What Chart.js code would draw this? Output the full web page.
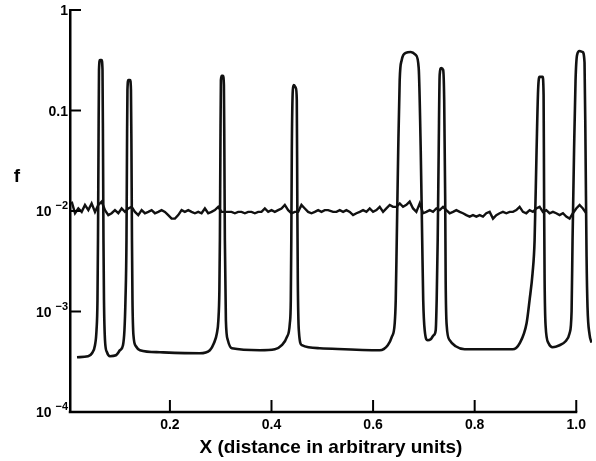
<!DOCTYPE html>
<html>
<head>
<meta charset="utf-8">
<script src="https://cdn.jsdelivr.net/npm/chart.js@4.4.1/dist/chart.umd.min.js"></script>
<style>
  html, body { margin: 0; padding: 0; background: #fff; }
  #wrap { width: 596px; height: 461px; position: relative; }
</style>
</head>
<body>
<div id="wrap"><canvas id="chart"></canvas></div>
<script>
// axis ticks
const xTickValues = [0.2, 0.4, 0.6, 0.8, 1.0];
const xTickLabels = ['0.2', '0.4', '0.6', '0.8', '1.0'];
const yTickValues = [1e-4, 1e-3, 1e-2, 0.1, 1];
const yTickBase = ['10', '10', '10', '0.1', '1'];
const yTickExp = ['\u22124', '\u22123', '\u22122', '', ''];
const xTitle = 'X (distance in arbitrary units)';
const yTitle = 'f';

// spiky curve
const spikeX = [
  0.0171, 0.0388, 0.0466, 0.0525, 0.0555, 0.0574, 0.0584, 0.0594, 0.0604, 0.0624,
  0.0653, 0.0673, 0.0683, 0.0692, 0.0702, 0.0722, 0.0761, 0.0820, 0.0938, 0.1017,
  0.1076, 0.1105, 0.1125, 0.1145, 0.1155, 0.1164, 0.1184, 0.1214, 0.1233, 0.1243,
  0.1253, 0.1263, 0.1282, 0.1331, 0.1410, 0.1804, 0.2590, 0.2787, 0.2866, 0.2925,
  0.2954, 0.2974, 0.2984, 0.2994, 0.3004, 0.3023, 0.3043, 0.3063, 0.3072, 0.3082,
  0.3102, 0.3141, 0.3220, 0.3771, 0.4066, 0.4203, 0.4302, 0.4361, 0.4380, 0.4390,
  0.4400, 0.4420, 0.4439, 0.4479, 0.4498, 0.4508, 0.4518, 0.4538, 0.4597, 0.4951,
  0.6131, 0.6289, 0.6367, 0.6426, 0.6446, 0.6466, 0.6495, 0.6524, 0.6564, 0.6643,
  0.6741, 0.6839, 0.6898, 0.6938, 0.6967, 0.6987, 0.7016, 0.7075, 0.7134, 0.7193,
  0.7233, 0.7252, 0.7272, 0.7292, 0.7311, 0.7341, 0.7380, 0.7400, 0.7420, 0.7429,
  0.7449, 0.7508, 0.7626, 0.7803, 0.8747, 0.8885, 0.9022, 0.9081, 0.9140, 0.9180,
  0.9219, 0.9249, 0.9278, 0.9337, 0.9357, 0.9367, 0.9377, 0.9396, 0.9455, 0.9534,
  0.9672, 0.9790, 0.9869, 0.9908, 0.9927, 0.9957, 0.9986, 1.0016, 1.0065, 1.0124,
  1.0163, 1.0183, 1.0203, 1.0222, 1.0262, 1.0301
];
const spikeF = [
  3.51e-4, 3.59e-4, 3.84e-4, 4.62e-4, 6.51e-4, 1.30e-3, 5.13e-3, 0.0404, 0.253, 0.318,
  0.318, 0.253, 0.0404, 5.13e-3, 1.30e-3, 5.18e-4, 3.93e-4, 3.59e-4, 3.67e-4, 4.12e-4,
  4.62e-4, 6.51e-4, 1.30e-3, 5.13e-3, 0.0404, 0.160, 0.201, 0.201, 0.160, 0.0404,
  5.13e-3, 1.30e-3, 5.81e-4, 4.51e-4, 4.12e-4, 3.93e-4, 3.84e-4, 4.12e-4, 4.83e-4, 6.08e-4,
  8.19e-4, 1.63e-3, 5.13e-3, 0.0404, 0.201, 0.221, 0.221, 0.179, 0.0404, 5.13e-3,
  8.19e-4, 5.18e-4, 4.31e-4, 4.12e-4, 4.21e-4, 4.62e-4, 5.55e-4, 7.64e-4, 1.30e-3, 5.13e-3,
  0.0404, 0.160, 0.179, 0.168, 0.127, 0.0128, 2.05e-3, 6.51e-4, 4.62e-4, 4.31e-4,
  4.12e-4, 4.62e-4, 5.55e-4, 7.64e-4, 1.30e-3, 5.13e-3, 0.0404, 0.201, 0.318, 0.374,
  0.382, 0.357, 0.265, 0.0404, 5.13e-3, 1.30e-3, 6.51e-4, 5.18e-4, 5.30e-4, 5.81e-4,
  6.51e-4, 1.30e-3, 5.13e-3, 0.0404, 0.226, 0.265, 0.253, 0.127, 0.0128, 2.05e-3,
  7.30e-4, 5.18e-4, 4.51e-4, 4.21e-4, 4.21e-4, 4.83e-4, 7.64e-4, 1.30e-3, 2.41e-3, 5.13e-3,
  0.0404, 0.160, 0.216, 0.216, 0.143, 0.0128, 2.05e-3, 7.30e-4, 4.83e-4, 4.41e-4,
  4.62e-4, 5.06e-4, 6.08e-4, 1.00e-3, 5.13e-3, 0.0404, 0.200, 0.357, 0.391, 0.382,
  0.300, 0.0404, 3.50e-3, 1.10e-3, 5.90e-4, 4.90e-4
];

// noisy curve near 10^-2
const noiseX = [
  0.0066, 0.0132, 0.0197, 0.0263, 0.0328, 0.0394, 0.0459, 0.0525, 0.0591, 0.0656,
  0.0722, 0.0787, 0.0853, 0.0918, 0.0984, 0.1050, 0.1115, 0.1181, 0.1246, 0.1312,
  0.1377, 0.1443, 0.1508, 0.1574, 0.1640, 0.1705, 0.1771, 0.1836, 0.1902, 0.1967,
  0.2033, 0.2099, 0.2164, 0.2230, 0.2295, 0.2361, 0.2426, 0.2492, 0.2558, 0.2623,
  0.2689, 0.2754, 0.2820, 0.2885, 0.2951, 0.3017, 0.3082, 0.3148, 0.3213, 0.3279,
  0.3344, 0.3410, 0.3476, 0.3541, 0.3607, 0.3672, 0.3738, 0.3803, 0.3869, 0.3935,
  0.4000, 0.4066, 0.4131, 0.4197, 0.4262, 0.4328, 0.4394, 0.4459, 0.4525, 0.4590,
  0.4656, 0.4721, 0.4787, 0.4853, 0.4918, 0.4984, 0.5049, 0.5115,
  0.5213, 0.5279, 0.5344, 0.5410, 0.5475, 0.5541, 0.5606, 0.5672, 0.5738, 0.5803,
  0.5869, 0.5934, 0.6000, 0.6066, 0.6131, 0.6197, 0.6262, 0.6328, 0.6393, 0.6459,
  0.6525, 0.6590, 0.6656, 0.6721, 0.6787, 0.6852, 0.6918, 0.6984, 0.7049, 0.7115,
  0.7180, 0.7246, 0.7311, 0.7377, 0.7443, 0.7508, 0.7574, 0.7639, 0.7705, 0.7770,
  0.7836, 0.7902, 0.7967, 0.8033, 0.8098, 0.8164, 0.8229, 0.8295, 0.8361, 0.8426,
  0.8492, 0.8557, 0.8623, 0.8688, 0.8754, 0.8820, 0.8885, 0.8951, 0.9016, 0.9082,
  0.9147, 0.9213, 0.9279, 0.9344, 0.9410, 0.9475, 0.9541, 0.9606, 0.9672, 0.9738,
  0.9803, 0.9869, 0.9934, 1.0000, 1.0066, 1.0131, 1.0197
];
const noiseF = [
  0.0124, 0.0095, 0.0106, 0.0098, 0.0115, 0.0102, 0.0119, 0.0098, 0.0115, 0.0124,
  0.0102, 0.0091, 0.0095, 0.0102, 0.0095, 0.0106, 0.0098, 0.0106, 0.0110, 0.0098,
  0.0091, 0.0102, 0.0095, 0.0098, 0.0102, 0.0095, 0.0098, 0.0102, 0.0098, 0.0091,
  0.0084, 0.0084, 0.0091, 0.0102, 0.0098, 0.0102, 0.0098, 0.0095, 0.0098, 0.0095,
  0.0106, 0.0095, 0.0098, 0.0102, 0.0110, 0.0098, 0.0098, 0.0098, 0.0098, 0.0095,
  0.0098, 0.0098, 0.0095, 0.0098, 0.0098, 0.0095, 0.0098, 0.0098, 0.0106, 0.0098,
  0.0102, 0.0098, 0.0102, 0.0106, 0.0115, 0.0102, 0.0095, 0.0098, 0.0098, 0.0115,
  0.0106, 0.0098, 0.0095, 0.0098, 0.0102, 0.0098, 0.0102, 0.0102,
  0.0098, 0.0098, 0.0102, 0.0098, 0.0102, 0.0098, 0.0091, 0.0095, 0.0098, 0.0102,
  0.0098, 0.0106, 0.0098, 0.0102, 0.0110, 0.0098, 0.0106, 0.0115, 0.0110, 0.0110,
  0.0119, 0.0110, 0.0115, 0.0124, 0.0106, 0.0098, 0.0119, 0.0095, 0.0098, 0.0102,
  0.0098, 0.0106, 0.0102, 0.0110, 0.0102, 0.0095, 0.0098, 0.0102, 0.0098, 0.0095,
  0.0091, 0.0088, 0.0091, 0.0088, 0.0091, 0.0088, 0.0095, 0.0098, 0.0084, 0.0091,
  0.0095, 0.0098, 0.0095, 0.0098, 0.0098, 0.0102, 0.0110, 0.0098, 0.0095, 0.0102,
  0.0098, 0.0106, 0.0110, 0.0098, 0.0102, 0.0095, 0.0098, 0.0095, 0.0091, 0.0095,
  0.0088, 0.0084, 0.0095, 0.0106, 0.0115, 0.0106, 0.0095
];

const fontFamily = '"Liberation Sans", Arial, Helvetica, sans-serif';

// inward tick marks, y labels with raised exponents, x axis line that stops at 1.0, and "f"
const axisMarks = {
  id: 'axisMarks',
  afterDraw(chart) {
    const { ctx, chartArea, scales: { x, y } } = chart;
    ctx.save();
    ctx.strokeStyle = '#000';
    ctx.lineWidth = 2.5;
    ctx.beginPath();
    ctx.moveTo(chartArea.left - 1.25, chartArea.bottom);
    ctx.lineTo(x.getPixelForValue(xTickValues[xTickValues.length - 1]) + 1, chartArea.bottom);
    ctx.stroke();

    ctx.lineWidth = 2;
    xTickValues.forEach(v => {
      const px = x.getPixelForValue(v);
      ctx.beginPath();
      ctx.moveTo(px, chartArea.bottom);
      ctx.lineTo(px, chartArea.bottom - 12);
      ctx.stroke();
    });
    yTickValues.forEach(v => {
      const py = y.getPixelForValue(v);
      ctx.beginPath();
      ctx.moveTo(chartArea.left, py);
      ctx.lineTo(chartArea.left + 11, py);
      ctx.stroke();
    });

    ctx.fillStyle = '#000';
    ctx.textAlign = 'right';
    ctx.textBaseline = 'alphabetic';
    yTickValues.forEach((v, i) => {
      const py = y.getPixelForValue(v);
      let right = chartArea.left - 2;
      if (yTickExp[i]) {
        ctx.font = 'bold 11px ' + fontFamily;
        ctx.fillText(yTickExp[i], right, py - 2);
        right -= ctx.measureText(yTickExp[i]).width + 4;
      }
      ctx.font = 'bold 14px ' + fontFamily;
      ctx.fillText(yTickBase[i], right, py + 5);
    });

    ctx.font = 'bold 19px ' + fontFamily;
    ctx.textAlign = 'center';
    ctx.textBaseline = 'middle';
    ctx.fillText(yTitle, 17, 177);
    ctx.restore();
  }
};

new Chart(document.getElementById('chart'), {
  type: 'line',
  data: {
    datasets: [
      {
        data: spikeX.map((x, i) => ({ x: x, y: spikeF[i] })),
        borderColor: '#111',
        borderWidth: 2.6,
        cubicInterpolationMode: 'monotone',
        pointRadius: 0,
        fill: false
      },
      {
        data: noiseX.map((x, i) => ({ x: x, y: noiseF[i] })),
        borderColor: '#111',
        borderWidth: 2.4,
        tension: 0,
        pointRadius: 0,
        fill: false
      }
    ]
  },
  options: {
    responsive: true,
    maintainAspectRatio: false,
    animation: false,
    layout: { padding: { top: 10, right: 4, left: 0, bottom: 0 } },
    plugins: {
      legend: { display: false },
      tooltip: { enabled: false }
    },
    scales: {
      x: {
        type: 'linear',
        min: 0.0033,
        max: 1.031,
        afterBuildTicks: s => { s.ticks = xTickValues.map(v => ({ value: v })); },
        afterFit: s => { s.height = 49; },
        grid: { display: true, drawOnChartArea: false, drawTicks: false },
        border: { display: false },
        ticks: {
          callback: (v, i) => xTickLabels[i],
          padding: 5,
          maxRotation: 0,
          autoSkip: false,
          color: '#000',
          font: { family: fontFamily, size: 14, weight: 'bold' }
        },
        title: {
          display: true,
          text: xTitle,
          color: '#000',
          font: { family: fontFamily, size: 19, weight: 'bold' },
          padding: { top: 4, bottom: 2 }
        }
      },
      y: {
        type: 'logarithmic',
        min: 1e-4,
        max: 1,
        afterBuildTicks: s => { s.ticks = yTickValues.map(v => ({ value: v })); },
        afterFit: s => { s.width = 70; },
        grid: { display: true, drawOnChartArea: false, drawTicks: false },
        border: { display: true, color: '#000', width: 2.5 },
        ticks: { display: false }
      }
    }
  },
  plugins: [axisMarks]
});
</script>
</body>
</html>
